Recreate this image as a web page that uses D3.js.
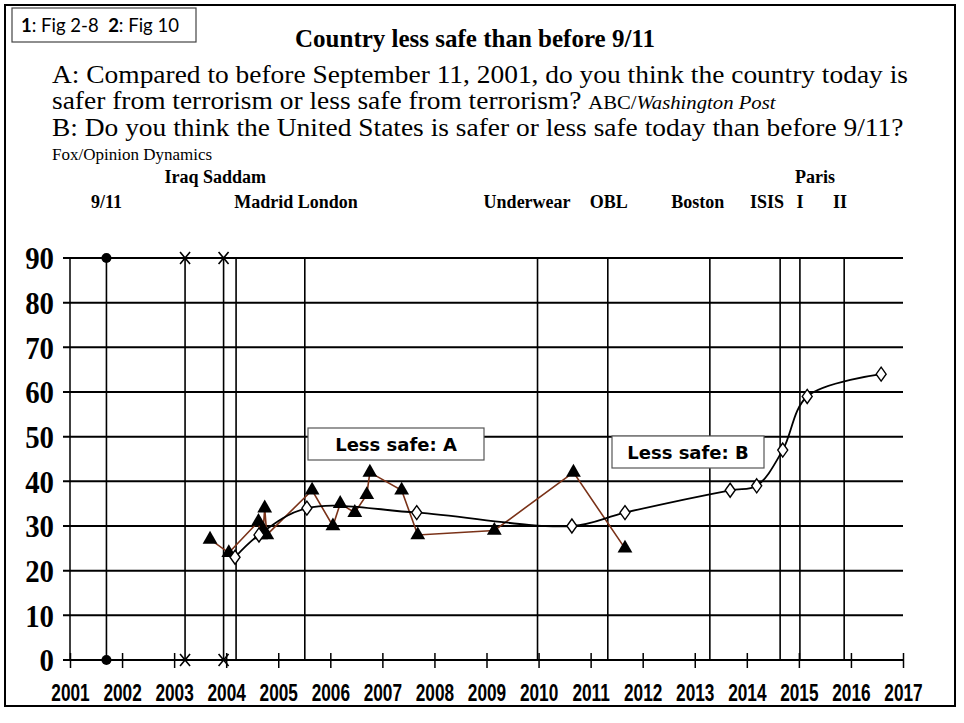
<!DOCTYPE html>
<html>
<head>
<meta charset="utf-8">
<script src="https://cdn.jsdelivr.net/npm/d3@7"></script>
<style>
  body { margin: 0; background: #fff; }
  svg { display: block; }
</style>
</head>
<body>
<div id="chart-container"></div>
<script>
// Country less safe than before 9/11: ABC/WaPo (A) vs Fox/Opinion Dynamics (B), with event lines

const yearTicks = d3.range(2001, 2018);
const valueTicks = d3.range(0, 100, 10);

// A: ABC/Washington Post, % "less safe" (dates as decimal years)
const aDates = [2003.69, 2004.05, 2004.62, 2004.66, 2004.71, 2004.74, 2004.78, 2005.65, 2006.05,
                2006.19, 2006.47, 2006.70, 2006.76, 2007.37, 2007.68, 2009.15, 2010.67, 2011.66];
const aValues = [27, 24, 31, 28, 29, 34, 28, 38, 30, 35, 33, 37, 42, 38, 28, 29, 42, 25];

// B: Fox/Opinion Dynamics, % "less safe"
const bDates = [2004.17, 2004.63, 2005.55, 2007.66, 2010.64, 2011.66, 2013.68, 2014.19, 2014.69, 2015.16, 2016.58];
const bValues = [23, 28, 34, 33, 30, 33, 38, 39, 47, 59, 64];

// events (vertical lines)
const eventNames = ["9/11", "Iraq", "Saddam", "Madrid", "London", "Underwear", "OBL", "Boston", "ISIS", "Paris I", "Paris II"];
const eventDates = [2001.70, 2003.21, 2003.95, 2004.19, 2005.51, 2009.98, 2011.33, 2013.29, 2014.64, 2015.02, 2015.87];
const eventMarks = ["dot", "x", "x", "", "", "", "", "", "", "", ""];

// event labels, two rows
const labelsTop = ["Iraq Saddam", "Paris"];
const labelsTopAt = [2003.79, 2015.31];
const labelsLow = ["9/11", "Madrid London", "Underwear", "OBL", "Boston", "ISIS", "I", "II"];
const labelsLowAt = [2001.70, 2005.34, 2009.78, 2011.35, 2013.06, 2014.39, 2015.02, 2015.79];

const seriesA = aDates.map((d, i) => ({ date: d, value: aValues[i] }));
const seriesB = bDates.map((d, i) => ({ date: d, value: bValues[i] }));

const W = 964, H = 723;
const serif = "'Liberation Serif', 'Times New Roman', serif";
const sans = "'Liberation Sans', Arial, sans-serif";

const svg = d3.select("#chart-container").append("svg")
    .attr("width", W)
    .attr("height", H);

// outer frame
svg.append("rect")
    .attr("x", 5).attr("y", 5)
    .attr("width", 950).attr("height", 701)
    .attr("fill", "#fff")
    .attr("stroke", "#000")
    .attr("stroke-width", 2);

// figure ref box
svg.append("rect")
    .attr("x", 12).attr("y", 8)
    .attr("width", 184).attr("height", 34)
    .attr("fill", "#fff")
    .attr("stroke", "#444")
    .attr("stroke-width", 1.2);

const ref = svg.append("text")
    .attr("x", 21).attr("y", 32)
    .style("font-family", "Lato, 'Open Sans', sans-serif")
    .style("font-size", "18.5px")
    .style("white-space", "pre");
ref.append("tspan").style("font-weight", "bold").text("1");
ref.append("tspan").text(": Fig 2-8  ");
ref.append("tspan").style("font-weight", "bold").text("2");
ref.append("tspan").text(": Fig 10");

// title + question wording
svg.append("text")
    .attr("x", 475).attr("y", 47)
    .attr("text-anchor", "middle")
    .style("font-family", serif)
    .style("font-size", "25px")
    .style("font-weight", "bold")
    .text("Country less safe than before 9/11");

const qx = 52, qsx = 1.12;
function qline(yb, size) {
    return svg.append("text")
        .attr("transform", `translate(${qx},${yb}) scale(${qsx},1)`)
        .style("font-family", serif)
        .style("font-size", size + "px");
}
qline(83, 24.5).text("A: Compared to before September 11, 2001, do you think the country today is");
const q2 = qline(109, 24.5);
q2.append("tspan").text("safer from terrorism or less safe from terrorism? ");
q2.append("tspan").style("font-size", "18.5px").text("ABC/");
q2.append("tspan").style("font-size", "18.5px").style("font-style", "italic").text("Washington Post");
qline(136, 24.5).text("B: Do you think the United States is safer or less safe today than before 9/11?");

svg.append("text")
    .attr("x", qx).attr("y", 160)
    .style("font-family", serif).style("font-size", "17px")
    .text("Fox/Opinion Dynamics");

// Scales
const x = d3.scaleLinear().domain([2001, 2017]).range([70, 903]);
const y = d3.scaleLinear().domain([0, 90]).range([660, 258]);

// event labels
svg.selectAll(".lab-top")
    .data(labelsTop)
    .enter().append("text")
    .attr("class", "lab-top")
    .attr("x", (d, i) => x(labelsTopAt[i]))
    .attr("y", 183)
    .attr("text-anchor", "middle")
    .style("font-family", serif).style("font-size", "18px").style("font-weight", "bold")
    .text(d => d);

svg.selectAll(".lab-low")
    .data(labelsLow)
    .enter().append("text")
    .attr("class", "lab-low")
    .attr("x", (d, i) => x(labelsLowAt[i]))
    .attr("y", 208)
    .attr("text-anchor", "middle")
    .style("font-family", serif).style("font-size", "18px").style("font-weight", "bold")
    .text(d => d);

// horizontal gridlines
svg.selectAll(".grid")
    .data(valueTicks)
    .enter().append("line")
    .attr("class", "grid")
    .attr("x1", x(2001) - 7).attr("x2", x(2017))
    .attr("y1", d => y(d)).attr("y2", d => y(d))
    .attr("stroke", "#000")
    .attr("stroke-width", 2);

// y axis line
svg.append("line")
    .attr("x1", x(2001)).attr("x2", x(2001))
    .attr("y1", y(0)).attr("y2", y(90))
    .attr("stroke", "#000").attr("stroke-width", 1.5);

// event lines
svg.selectAll(".event")
    .data(eventDates)
    .enter().append("line")
    .attr("class", "event")
    .attr("x1", d => x(d)).attr("x2", d => x(d))
    .attr("y1", y(0)).attr("y2", y(90))
    .attr("stroke", "#000")
    .attr("stroke-width", 1.6);

// y labels (tall condensed bold serif)
const yAxis = svg.append("g")
    .attr("transform", `translate(${x(2001) - 16},0)`)
    .call(d3.axisLeft(y).tickValues(valueTicks).tickSize(0).tickPadding(0));
yAxis.select(".domain").remove();
yAxis.selectAll("text")
    .attr("x", 0)
    .attr("transform", d => `translate(0,${y(d)}) scale(0.9,1) translate(0,${-y(d)})`)
    .attr("dy", "0.34em")
    .style("font-family", serif)
    .style("font-size", "32px")
    .style("font-weight", "bold")
    .attr("fill", "#000");

// x axis: ticks crossing the zero line, condensed bold labels
const xAxis = svg.append("g")
    .attr("transform", `translate(0,${y(0)})`)
    .call(d3.axisBottom(x).tickValues(yearTicks).tickFormat(d3.format("d")).tickSize(8));
xAxis.select(".domain").remove();
xAxis.selectAll(".tick line")
    .attr("y1", -7).attr("y2", 8)
    .attr("stroke", "#000").attr("stroke-width", 1.5);
xAxis.selectAll(".tick text")
    .attr("y", 41).attr("dy", 0)
    .attr("transform", "scale(0.75,1)")
    .style("font-family", sans)
    .style("font-size", "23px")
    .style("font-weight", "bold")
    .attr("fill", "#000");

// "Less safe" label boxes
function labelBox(cx, cy, w, h, txt) {
    svg.append("rect")
        .attr("x", cx - w / 2).attr("y", cy - h / 2)
        .attr("width", w).attr("height", h)
        .attr("fill", "#fff")
        .attr("stroke", "#555")
        .attr("stroke-width", 1.2);
    svg.append("text")
        .attr("x", cx).attr("y", cy + 7)
        .attr("text-anchor", "middle")
        .style("font-family", "'DejaVu Sans', sans-serif")
        .style("font-size", "18px")
        .style("font-weight", "bold")
        .text(txt);
}
labelBox(396, 444, 176, 32, "Less safe: A");
labelBox(688, 452, 152, 32, "Less safe: B");

// Line generators
const lineA = d3.line().x(d => x(d.date)).y(d => y(d.value));
const lineB = d3.line().x(d => x(d.date)).y(d => y(d.value)).curve(d3.curveCatmullRom.alpha(0.5));

svg.append("path")
    .datum(seriesA)
    .attr("fill", "none")
    .attr("stroke", "#7a3218")
    .attr("stroke-width", 1.6)
    .attr("d", lineA);

svg.append("path")
    .datum(seriesB)
    .attr("fill", "none")
    .attr("stroke", "#000")
    .attr("stroke-width", 1.8)
    .attr("d", lineB);

// markers
svg.selectAll(".tri")
    .data(seriesA)
    .enter().append("path")
    .attr("class", "tri")
    .attr("transform", d => `translate(${x(d.date)},${y(d.value)})`)
    .attr("d", d3.symbol(d3.symbolTriangle, 95))
    .attr("fill", "#000");

svg.selectAll(".dia")
    .data(seriesB)
    .enter().append("path")
    .attr("class", "dia")
    .attr("transform", d => `translate(${x(d.date)},${y(d.value)})`)
    .attr("d", "M0,-7L5,0L0,7L-5,0Z")
    .attr("fill", "#fff")
    .attr("stroke", "#000")
    .attr("stroke-width", 1.4);

// event end markers (top and bottom)
eventDates.forEach((d, i) => {
    const m = eventMarks[i];
    if (!m) return;
    [0, 90].forEach(v => {
        const g = svg.append("g").attr("transform", `translate(${x(d)},${y(v)})`);
        if (m === "dot") {
            g.append("circle").attr("r", 5).attr("fill", "#000");
        } else {
            g.append("path")
                .attr("d", "M-5,-6L5,6M-5,6L5,-6")
                .attr("stroke", "#000")
                .attr("stroke-width", 1.6);
        }
    });
});
</script>
</body>
</html>
